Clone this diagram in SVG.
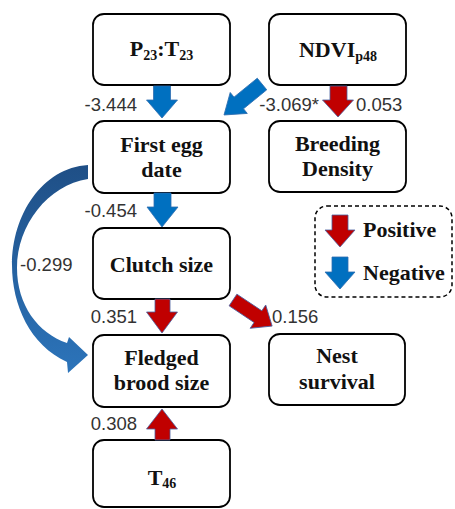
<svg xmlns="http://www.w3.org/2000/svg" width="455" height="509" viewBox="0 0 455 509">
<style>
.box{fill:#fff;stroke:#000;stroke-width:1.8}
.nt{font-family:"Liberation Serif","Times New Roman",serif;font-weight:bold;font-size:22px;fill:#111;text-anchor:middle}
.lt{font-family:"Liberation Serif","Times New Roman",serif;font-weight:bold;font-size:22px;fill:#111}
.num{font-family:"Liberation Sans",Arial,sans-serif;font-size:18.5px;fill:#333}
.pos{fill:#C00000;stroke:#4A5FA0;stroke-width:0.8}
.neg{fill:#0070C0;stroke:#2E6DB0;stroke-width:0.8}
.sub{font-size:14px}
</style>
<defs>
<linearGradient id="cg" gradientUnits="userSpaceOnUse" x1="0" y1="165" x2="0" y2="373">
<stop offset="0" stop-color="#1F4F86"/>
<stop offset="1" stop-color="#2C74BA"/>
</linearGradient>
</defs>
<g id="node-p23t23"><rect class="box" x="93" y="14" width="137" height="71" rx="11"/><text class="nt" x="161.5" y="56">P<tspan class="sub" dy="4">23</tspan><tspan dy="-4">:T</tspan><tspan class="sub" dy="4">23</tspan></text></g>
<g id="node-ndvi"><rect class="box" x="269" y="14" width="137" height="71" rx="11"/><text class="nt" x="338" y="57">NDVI<tspan class="sub" dy="4">p48</tspan></text></g>
<g id="node-firstegg"><rect class="box" x="93" y="121" width="137" height="72" rx="11"/><text class="nt" x="161.5" y="152">First egg</text><text class="nt" x="161.5" y="177">date</text></g>
<g id="node-breeding"><rect class="box" x="269" y="121" width="137" height="71" rx="11"/><text class="nt" x="337.5" y="151">Breeding</text><text class="nt" x="337.5" y="176">Density</text></g>
<g id="node-clutch"><rect class="box" x="93" y="228" width="137" height="71" rx="11"/><text class="nt" x="161.5" y="272">Clutch size</text></g>
<g id="node-fledged"><rect class="box" x="93" y="335" width="137" height="72" rx="11"/><text class="nt" x="161.5" y="365">Fledged</text><text class="nt" x="161.5" y="390">brood size</text></g>
<g id="node-nest"><rect class="box" x="269" y="334" width="136" height="71" rx="11"/><text class="nt" x="337" y="363">Nest</text><text class="nt" x="337" y="389">survival</text></g>
<g id="node-t46"><rect class="box" x="93" y="440" width="137" height="67" rx="11"/><text class="nt" x="162" y="485">T<tspan class="sub" dy="3">46</tspan></text></g>
<g id="legend">
<rect x="315" y="206" width="137" height="91" rx="12" fill="none" stroke="#000" stroke-width="1.5" stroke-dasharray="4,3"/>
<polygon class="pos" points="332,215 348,215 348,230 355,230 340,247 325,230 332,230"/>
<text class="lt" x="363" y="237">Positive</text>
<polygon class="neg" points="332,257 348,257 348,272 355,272 340,289 325,272 332,272"/>
<text class="lt" x="363" y="280">Negative</text>
</g>
<g id="connectors">
<polygon class="neg" points="153.5,86 170.5,86 170.5,100 177.5,100 162,118 146.5,100 153.5,100"/>
<polygon class="pos" points="330,86 347,86 347,100 353.5,100 338,117 322.5,100 330,100"/>
<polygon class="neg" transform="translate(262,84) rotate(140.8)" points="0,-7.5 30,-7.5 30,-13.5 49,0 30,13.5 30,7.5 0,7.5"/>
<polygon class="neg" points="154,193 171,193 171,207 178,207 162,227 147,207 154,207"/>
<polygon class="pos" points="155,299 170,299 170,312 177.5,312 162,333 146.5,312 155,312"/>
<polygon class="pos" transform="translate(233,300) rotate(33.7)" points="0,-7 30,-7 30,-14 47,0 30,14 30,7 0,7"/>
<polygon class="pos" points="155,440 170,440 170,429 177.5,429 162,409 146.5,429 155,429"/>
<path fill="url(#cg)" d="M88,165 C42,168 12,215 12,265 C12,305 30,345 67,362 L68,373 L88,355 L69,337 L67,343 C38,333 17,305 17,268 C17,225 48,185 88,179 Z"/>
<text class="num" x="137" y="111" text-anchor="end">-3.444</text>
<text class="num" x="319" y="111" text-anchor="end">-3.069*</text>
<text class="num" x="356" y="111">0.053</text>
<text class="num" x="137" y="217" text-anchor="end">-0.454</text>
<text class="num" x="20" y="271">-0.299</text>
<text class="num" x="137" y="323" text-anchor="end">0.351</text>
<text class="num" x="272" y="323">0.156</text>
<text class="num" x="137" y="430" text-anchor="end">0.308</text>
</g>
</svg>
